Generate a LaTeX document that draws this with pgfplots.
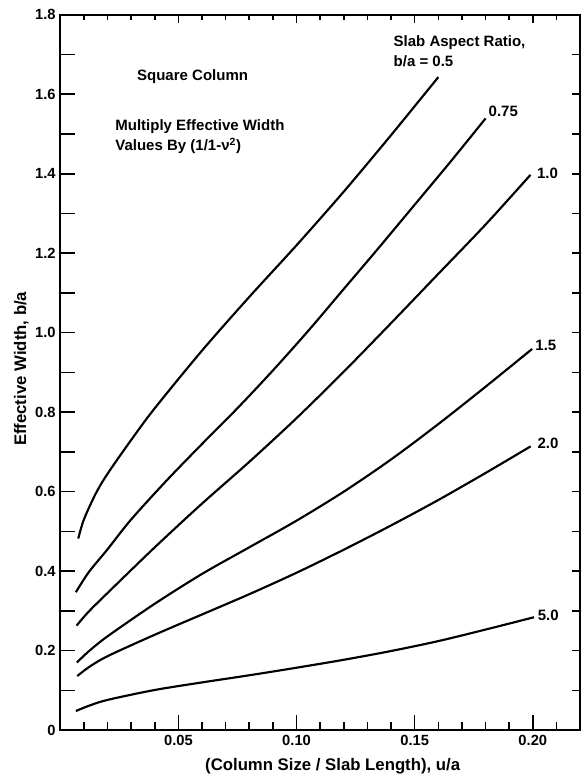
\documentclass[border=0pt]{standalone}
\usepackage{fontspec}
\setmainfont{Liberation Sans}
\usepackage{pgfplots}
\pgfplotsset{compat=1.18}
\tikzset{annot/.style={font=\bfseries\fontsize{11.2}{12}\selectfont, inner sep=0pt}}

\begin{document}
\begin{tikzpicture}
\useasboundingbox (-45pt,-35pt) rectangle (390pt,545pt);

% frame ticks on the top and right edges
\begin{axis}[
  at={(0,0)}, anchor=south west, scale only axis,
  width=388pt, height=534pt,
  xmin=0, xmax=0.22, ymin=0, ymax=1.8,
  axis line style={line width=1.6pt},
  tick style={black, line width=1.2pt},
  tick align=inside,
  xtick pos=right, ytick pos=right,
  xtick={0.05,0.10,0.15,0.20},
  minor xtick={0.01,0.02,0.03,0.04,0.06,0.07,0.08,0.09,0.11,0.12,0.13,0.14,0.16,0.17,0.18,0.19,0.21},
  ytick={0.1,0.2,0.3,0.4,0.5,0.6,0.7,0.8,0.9,1.0,1.1,1.2,1.3,1.4,1.5,1.6,1.7},
  xticklabels={}, yticklabels={},
  major tick length=6pt, minor tick length=4pt,
]
\end{axis}

\begin{axis}[
  at={(0,0)}, anchor=south west, scale only axis,
  width=388pt, height=534pt,
  xmin=0, xmax=0.22, ymin=0, ymax=1.8,
  clip=false,
  axis line style={line width=1.6pt},
  tick style={black, line width=1.2pt},
  tick align=inside,
  xtick pos=left, ytick pos=left,
  xtick={0.05,0.10,0.15,0.20},
  xticklabels={0.05,0.10,0.15,0.20},
  minor xtick={0.01,0.02,0.03,0.04,0.06,0.07,0.08,0.09,0.11,0.12,0.13,0.14,0.16,0.17,0.18,0.19,0.21},
  ytick={0,0.1,0.2,0.3,0.4,0.5,0.6,0.7,0.8,0.9,1.0,1.1,1.2,1.3,1.4,1.5,1.6,1.7,1.8},
  yticklabels={0,,0.2,,0.4,,0.6,,0.8,,1.0,,1.2,,1.4,,1.6,,1.8},
  major tick length=11pt, minor tick length=6pt,
  /pgf/number format/assume math mode=true,
  tick label style={font=\bfseries\fontsize{11}{12}\selectfont},
  xlabel={(Column Size / Slab Length), u/a},
  ylabel={Effective Width, b/a},
  every axis x label/.style={at={(axis description cs:0.524,-0.051)}, anchor=center,
    font=\bfseries\fontsize{12.5}{14}\selectfont},
  every axis y label/.style={at={(axis description cs:-0.075,0.505)}, anchor=center, rotate=90,
    font=\bfseries\fontsize{12.5}{14}\selectfont},
  cycle list={{black, solid}},
  every axis plot/.append style={line width=1.6pt, smooth, no markers},
]

% b/a = 0.5
\addplot coordinates {(0.0076,0.482) (0.01,0.53) (0.015,0.595) (0.02,0.645) (0.03,0.73) (0.04,0.81) (0.06,0.955) (0.08,1.09) (0.10,1.22) (0.12,1.355) (0.14,1.497) (0.16,1.643)};
% b/a = 0.75
\addplot coordinates {(0.0066,0.347) (0.012,0.397) (0.02,0.455) (0.03,0.53) (0.045,0.628) (0.06,0.72) (0.075,0.81) (0.09,0.905) (0.105,1.005) (0.12,1.11) (0.135,1.215) (0.15,1.322) (0.165,1.429) (0.18,1.539)};
% b/a = 1.0
\addplot coordinates {(0.0069,0.263) (0.012,0.298) (0.02,0.345) (0.04,0.46) (0.06,0.57) (0.08,0.675) (0.10,0.785) (0.12,0.902) (0.14,1.024) (0.16,1.148) (0.18,1.272) (0.199,1.397)};
% b/a = 1.5
\addplot coordinates {(0.007,0.17) (0.012,0.198) (0.02,0.236) (0.04,0.318) (0.06,0.393) (0.08,0.46) (0.10,0.527) (0.12,0.6) (0.14,0.681) (0.16,0.77) (0.18,0.864) (0.1997,0.959)};
% b/a = 2.0
\addplot coordinates {(0.0072,0.136) (0.012,0.158) (0.02,0.186) (0.04,0.24) (0.06,0.291) (0.08,0.342) (0.10,0.396) (0.12,0.454) (0.14,0.515) (0.16,0.579) (0.18,0.647) (0.1991,0.714)};
% b/a = 5.0
\addplot coordinates {(0.0066,0.048) (0.012,0.061) (0.02,0.076) (0.04,0.101) (0.06,0.12) (0.08,0.138) (0.10,0.157) (0.12,0.177) (0.14,0.199) (0.16,0.224) (0.18,0.253) (0.2005,0.284)};

\node[annot, anchor=center] at (axis cs:0.056,1.645) {Square Column};
\node[annot, anchor=west] at (axis cs:0.0232,1.518) {Multiply Effective Width};
\node[annot, anchor=west] at (axis cs:0.0232,1.47) {Values By (1/1-ν\textsuperscript{2})};
\node[annot, anchor=west] at (axis cs:0.141,1.729) {Slab Aspect Ratio,};
\node[annot, anchor=west] at (axis cs:0.141,1.684) {b/a = 0.5};
\node[annot, anchor=west] at (axis cs:0.1812,1.557) {0.75};
\node[annot, anchor=west] at (axis cs:0.2017,1.402) {1.0};
\node[annot, anchor=west] at (axis cs:0.201,0.967) {1.5};
\node[annot, anchor=west] at (axis cs:0.2019,0.722) {2.0};
\node[annot, anchor=west] at (axis cs:0.202,0.289) {5.0};
\end{axis}
\end{tikzpicture}
\end{document}
